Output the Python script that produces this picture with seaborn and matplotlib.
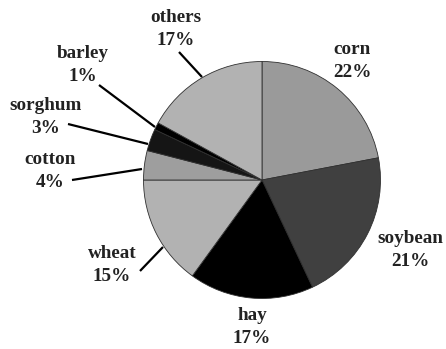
import matplotlib
matplotlib.use("Agg")
import matplotlib.pyplot as plt
import seaborn as sns

# Crop shares (percent), clockwise from 12 o'clock
crops = ["corn", "soybean", "hay", "wheat", "cotton", "sorghum", "barley", "others"]
shares = [22, 21, 17, 15, 4, 3, 1, 17]
colors = ["#9a9a9a", "#404040", "#000000", "#b2b2b2",
          "#9e9e9e", "#151515", "#000000", "#b2b2b2"]

sns.set_theme(style="white")
plt.rcParams["font.family"] = ["Liberation Serif", "DejaVu Serif"]

W, H = 446, 349
fig = plt.figure(figsize=(W / 100, H / 100), dpi=100)
ax = fig.add_axes([0, 0, 1, 1])

# Pie geometry in pixel units (y grows downward, so draw counter-clockwise
# in data space which appears clockwise on screen)
cx, cy, r = 262, 180, 118.5
wedges, _ = ax.pie(shares, colors=colors, startangle=-90, counterclock=True,
                   center=(cx, cy), radius=r, frame=True,
                   wedgeprops=dict(edgecolor="#303030", linewidth=0.6))
ax.set_xlim(0, W)
ax.set_ylim(H, 0)
ax.set_aspect("equal")
ax.axis("off")

# Label block centres and leader lines (pixel coordinates)
label_pos = {
    "corn": (352, 61), "soybean": (410, 250), "hay": (252, 327),
    "wheat": (112, 265), "cotton": (50, 171), "sorghum": (46, 117),
    "barley": (83, 65), "others": (176, 29),
}
leaders = {
    "others": ((179, 52), (202, 77)),
    "barley": ((99, 85), (155, 127)),
    "sorghum": ((68, 124), (148, 144)),
    "cotton": ((72, 180), (142, 169)),
    "wheat": ((140, 271), (163, 247)),
}

for name, val in zip(crops, shares):
    x, y = label_pos[name]
    ax.text(x, y, f"{name}\n{val}%", ha="center", va="center",
            fontsize=13.8, fontweight="bold", color="#222222",
            linespacing=1.4)
    if name in leaders:
        (x0, y0), (x1, y1) = leaders[name]
        ax.plot([x0, x1], [y0, y1], color="#000000", linewidth=1.6,
                solid_capstyle="butt")

fig.savefig("out.png", dpi=100, facecolor="white")
